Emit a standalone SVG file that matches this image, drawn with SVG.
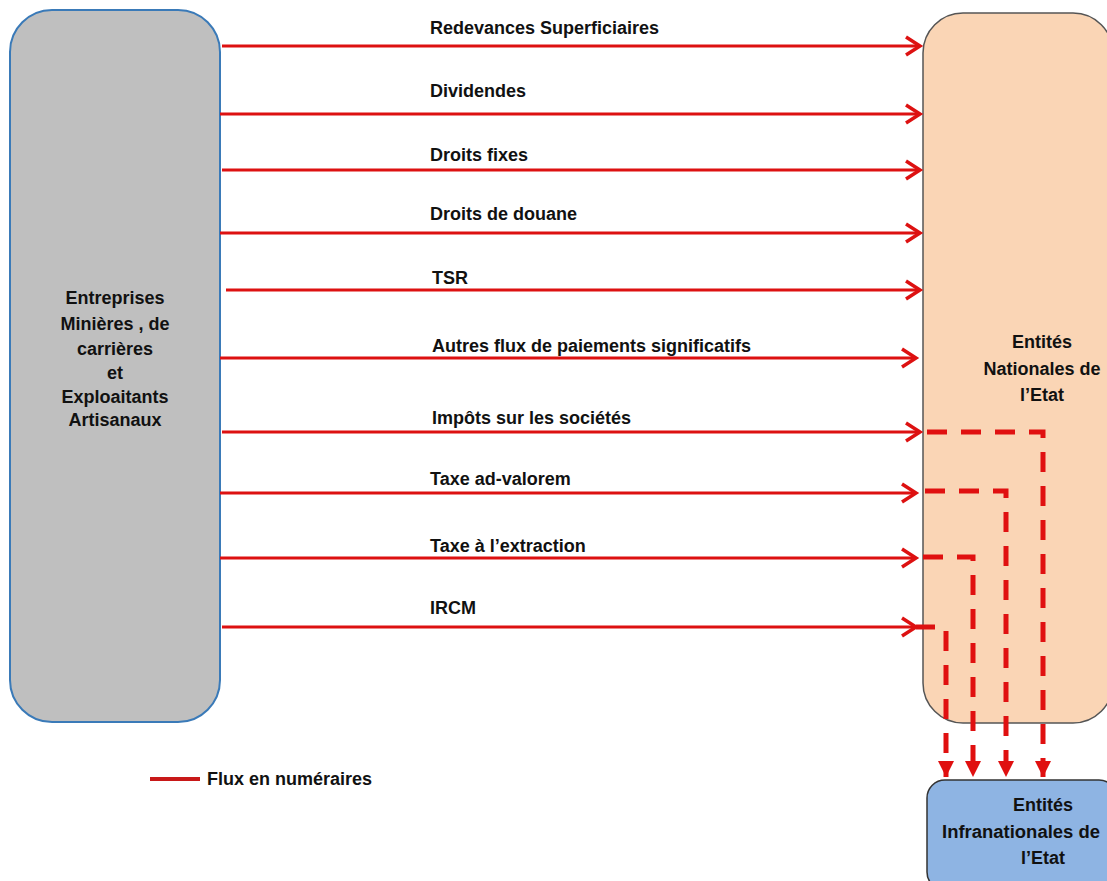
<svg xmlns="http://www.w3.org/2000/svg" width="1107" height="881" viewBox="0 0 1107 881">
<style>
text{font-family:"Liberation Sans",Arial,sans-serif;font-weight:bold;font-size:18px;fill:#111}
.c{text-anchor:middle}
.flow{stroke:#dd1111;stroke-width:3;fill:none}
.dash{stroke:#e01010;stroke-width:5;fill:none;stroke-dasharray:20 14}
</style>
<defs>
<marker id="open" markerUnits="userSpaceOnUse" markerWidth="20" markerHeight="24" viewBox="-16 -12 20 24" refX="0" refY="0" orient="auto">
<path d="M-14,-9 L0,0 L-14,9" fill="none" stroke="#dd1111" stroke-width="3.5" stroke-linejoin="miter"/>
</marker>
<marker id="tri" markerUnits="userSpaceOnUse" markerWidth="20" markerHeight="20" viewBox="-16 -10 18 20" refX="0" refY="0" orient="auto">
<path d="M-16,-8 L0,0 L-16,8 Z" fill="#e01010"/>
</marker>
</defs>
<rect width="1107" height="881" fill="#fff"/>
<g id="entreprises">
<rect x="10" y="10" width="210" height="712" rx="42" ry="42" fill="#bfbfbf" stroke="#3a7ab8" stroke-width="2"/>
<text class="c" x="115" y="304">Entreprises</text>
<text class="c" x="115" y="330">Minières , de</text>
<text class="c" x="115" y="355">carrières</text>
<text class="c" x="115" y="379">et</text>
<text class="c" x="115" y="403">Exploaitants</text>
<text class="c" x="115" y="426">Artisanaux</text>
</g>
<g id="nationales">
<rect x="923" y="13" width="190" height="710" rx="40" ry="40" fill="#fad5b5" stroke="#555" stroke-width="1.5"/>
<text class="c" x="1042" y="348">Entités</text>
<text class="c" x="1042" y="375">Nationales de</text>
<text class="c" x="1042" y="401">l’Etat</text>
</g>
<g id="infranationales">
<rect x="927" y="780" width="190" height="110" rx="18" ry="18" fill="#8eb4e3" stroke="#333" stroke-width="1.5"/>
<text class="c" x="1043" y="811">Entités</text>
<text class="c" x="1021" y="838" textLength="158" lengthAdjust="spacingAndGlyphs" style="text-anchor:middle">Infranationales de</text>
<text class="c" x="1043" y="864">l’Etat</text>
</g>
<g id="connectors">
<line class="flow" x1="222" y1="46" x2="920" y2="46" marker-end="url(#open)"/>
<line class="flow" x1="220" y1="114" x2="920" y2="114" marker-end="url(#open)"/>
<line class="flow" x1="222" y1="170" x2="920" y2="170" marker-end="url(#open)"/>
<line class="flow" x1="220" y1="233" x2="920" y2="233" marker-end="url(#open)"/>
<line class="flow" x1="226" y1="290" x2="920" y2="290" marker-end="url(#open)"/>
<line class="flow" x1="220" y1="358" x2="916" y2="358" marker-end="url(#open)"/>
<line class="flow" x1="222" y1="432" x2="920" y2="432" marker-end="url(#open)"/>
<line class="flow" x1="220" y1="493" x2="916" y2="493" marker-end="url(#open)"/>
<line class="flow" x1="220" y1="558" x2="916" y2="558" marker-end="url(#open)"/>
<line class="flow" x1="222" y1="627" x2="916" y2="627" marker-end="url(#open)"/>
<polyline class="dash" points="927,432 1043,432 1043,777" marker-end="url(#tri)"/>
<polyline class="dash" points="925,491 1006,491 1006,777" marker-end="url(#tri)"/>
<polyline class="dash" points="923,557 973,557 973,777" marker-end="url(#tri)"/>
<polyline class="flow" points="916,627 935,627" style="stroke-width:5"/>
<polyline class="dash" points="946,631 946,777" marker-end="url(#tri)"/>
</g>
<g id="labels">
<text x="430" y="34">Redevances Superficiaires</text>
<text x="430" y="97">Dividendes</text>
<text x="430" y="161">Droits fixes</text>
<text x="430" y="220">Droits de douane</text>
<text x="432" y="284">TSR</text>
<text x="432" y="352">Autres flux de paiements significatifs</text>
<text x="432" y="424">Impôts  sur les sociétés</text>
<text x="430" y="485">Taxe ad-valorem</text>
<text x="430" y="552">Taxe à l’extraction</text>
<text x="430" y="614">IRCM</text>
</g>
<g id="legend">
<line x1="150" y1="779" x2="200" y2="779" stroke="#c81818" stroke-width="4"/>
<text x="207" y="785">Flux en numéraires</text>
</g>
</svg>
